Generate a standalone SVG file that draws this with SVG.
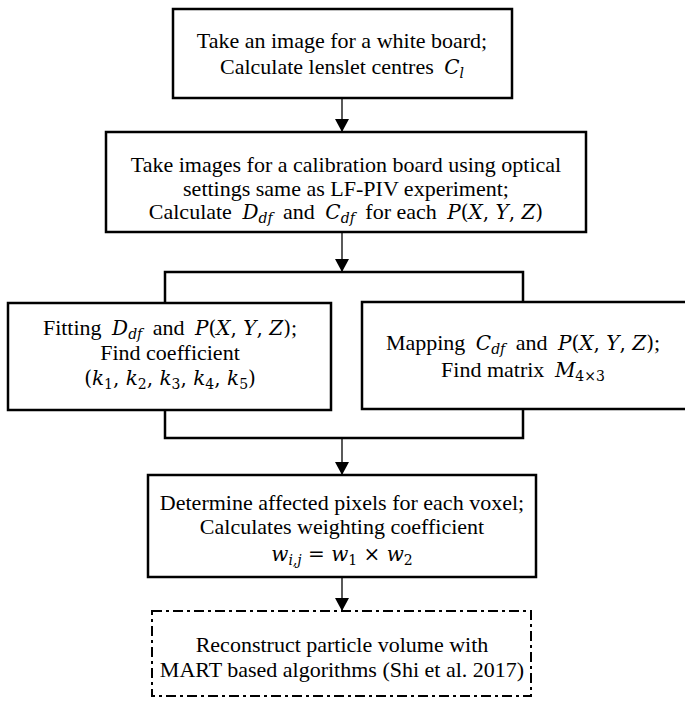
<svg xmlns="http://www.w3.org/2000/svg" width="685" height="701" viewBox="0 0 685 701">
<style>
.box{fill:#fff;stroke:#000;stroke-width:2.5}
.dd{fill:#fff;stroke:#000;stroke-width:2;stroke-dasharray:10 4 3 4}
.ln{fill:none;stroke:#000;stroke-width:1.3}
.br{fill:none;stroke:#000;stroke-width:2.5}
.t{font-family:"Liberation Serif","Times New Roman",serif;font-size:22px;fill:#000;text-anchor:middle}
.m{font-family:"DejaVu Serif",serif;font-style:italic;font-size:20px}
.u{font-family:"DejaVu Serif",serif;font-style:normal;font-size:20px}
.s{font-size:14px}
</style>
<defs>
<marker id="ah" markerWidth="14" markerHeight="14" refX="13" refY="7" orient="auto" markerUnits="userSpaceOnUse">
<path d="M0,0 L13,7 L0,14 Z" fill="#000"/>
</marker>
</defs>
<rect width="685" height="701" fill="#fff"/>
<g id="connectors">
<line class="ln" x1="342" y1="98" x2="342" y2="132" marker-end="url(#ah)"/>
<line class="ln" x1="342" y1="232" x2="342" y2="272" marker-end="url(#ah)"/>
<polyline class="br" points="165,303 165,272 523,272 523,302"/>
<polyline class="br" points="165,410 165,438 523,438 523,409"/>
<line class="ln" x1="342" y1="438" x2="342" y2="475" marker-end="url(#ah)"/>
<line class="ln" x1="342" y1="577" x2="342" y2="611" marker-end="url(#ah)"/>
</g>
<g id="n1">
<rect class="box" x="173" y="9" width="339" height="89"/>
<text class="t" x="342" y="48">Take an image for a white board;</text>
<text class="t" x="342" y="74">Calculate lenslet centres <tspan class="m" dx="5">C</tspan><tspan class="m s" dy="4">l</tspan></text>
</g>
<g id="n2">
<rect class="box" x="106" y="132" width="480" height="100"/>
<text class="t" x="346" y="172">Take images for a calibration board using optical</text>
<text class="t" x="346" y="196">settings same as LF-PIV experiment;</text>
<text class="t" x="346" y="219">Calculate <tspan class="m" dx="5">D</tspan><tspan class="m s" dy="4">df</tspan><tspan dy="-4" dx="5"> and </tspan><tspan class="m" dx="5">C</tspan><tspan class="m s" dy="4">df</tspan><tspan dy="-4" dx="5"> for each </tspan><tspan class="m" dx="5">P</tspan><tspan class="u">(</tspan><tspan class="m">X</tspan><tspan class="u">, </tspan><tspan class="m">Y</tspan><tspan class="u">, </tspan><tspan class="m">Z</tspan><tspan class="u">)</tspan></text>
</g>
<g id="n3">
<rect class="box" x="8" y="303" width="323" height="107"/>
<text class="t" x="170" y="335">Fitting <tspan class="m" dx="5">D</tspan><tspan class="m s" dy="4">df</tspan><tspan dy="-4" dx="5"> and </tspan><tspan class="m" dx="5">P</tspan><tspan class="u">(</tspan><tspan class="m">X</tspan><tspan class="u">, </tspan><tspan class="m">Y</tspan><tspan class="u">, </tspan><tspan class="m">Z</tspan><tspan class="u">)</tspan>;</text>
<text class="t" x="170" y="360">Find coefficient</text>
<text class="t" x="170" y="385"><tspan class="u">(</tspan><tspan class="m">k</tspan><tspan class="u s" dy="4">1</tspan><tspan class="u" dy="-4">, </tspan><tspan class="m">k</tspan><tspan class="u s" dy="4">2</tspan><tspan class="u" dy="-4">, </tspan><tspan class="m">k</tspan><tspan class="u s" dy="4">3</tspan><tspan class="u" dy="-4">, </tspan><tspan class="m">k</tspan><tspan class="u s" dy="4">4</tspan><tspan class="u" dy="-4">, </tspan><tspan class="m">k</tspan><tspan class="u s" dy="4">5</tspan><tspan class="u" dy="-4">)</tspan></text>
</g>
<g id="n4">
<rect class="box" x="362" y="302" width="326" height="107"/>
<text class="t" x="523" y="350">Mapping <tspan class="m" dx="5">C</tspan><tspan class="m s" dy="4">df</tspan><tspan dy="-4" dx="5"> and </tspan><tspan class="m" dx="5">P</tspan><tspan class="u">(</tspan><tspan class="m">X</tspan><tspan class="u">, </tspan><tspan class="m">Y</tspan><tspan class="u">, </tspan><tspan class="m">Z</tspan><tspan class="u">)</tspan>;</text>
<text class="t" x="523" y="377">Find matrix <tspan class="m" dx="5">M</tspan><tspan class="u s" dy="4">4×3</tspan></text>
</g>
<g id="n5">
<rect class="box" x="148" y="475" width="388" height="102"/>
<text class="t" x="342" y="510">Determine affected pixels for each voxel;</text>
<text class="t" x="342" y="534">Calculates weighting coefficient</text>
<text class="t" x="342" y="561"><tspan class="m">w</tspan><tspan class="m s" dy="4">i,j</tspan><tspan class="u" dy="-4"> = </tspan><tspan class="m">w</tspan><tspan class="u s" dy="4">1</tspan><tspan class="u" dy="-4"> × </tspan><tspan class="m">w</tspan><tspan class="u s" dy="4">2</tspan></text>
</g>
<g id="n6">
<rect class="dd" x="152" y="611" width="379" height="85"/>
<text class="t" x="342" y="652">Reconstruct particle volume with</text>
<text class="t" x="342" y="677">MART based algorithms (Shi et al. 2017)</text>
</g>
</svg>
